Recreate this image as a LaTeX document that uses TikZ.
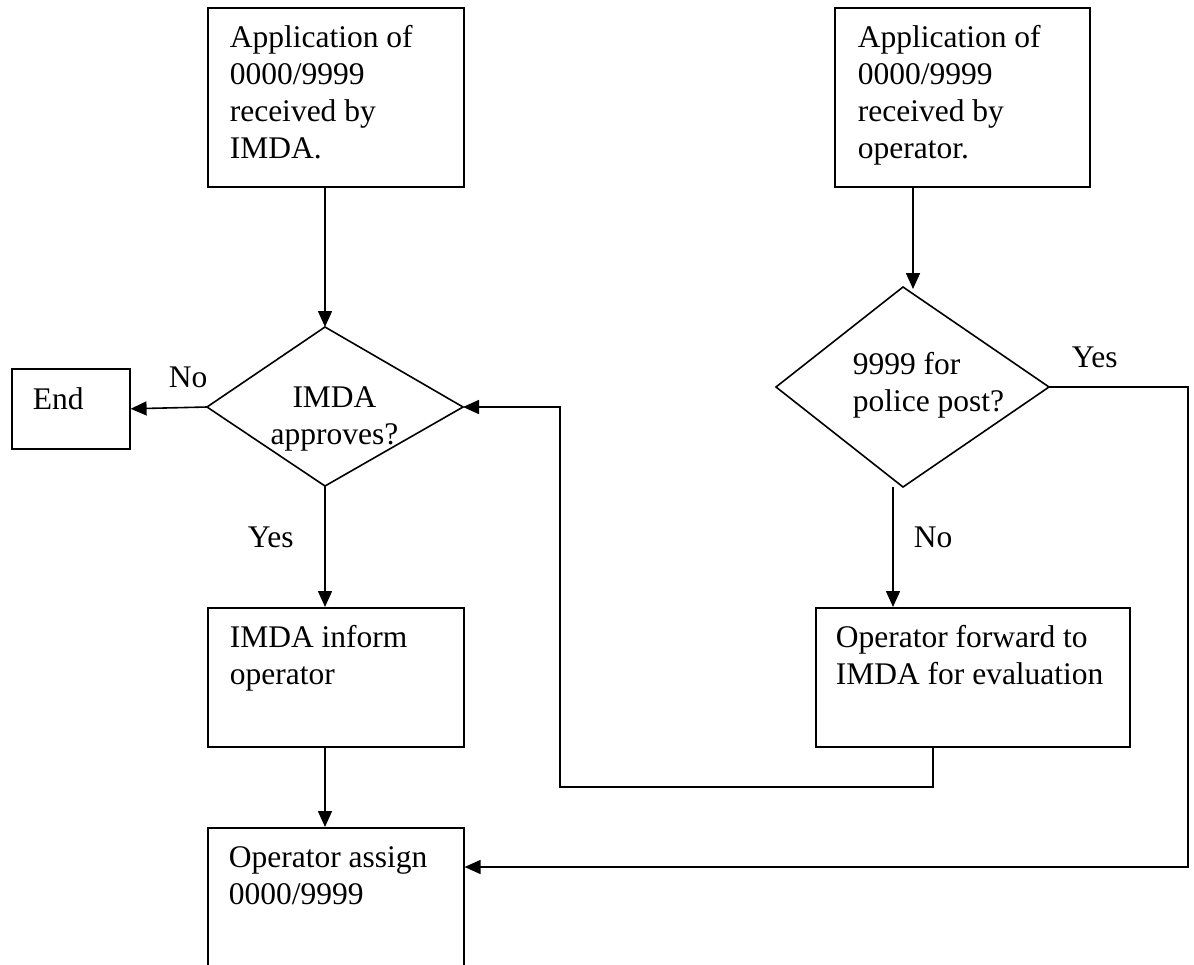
\documentclass[tikz,border=0pt]{standalone}
\usepackage{fontspec}
\setmainfont{Liberation Serif}
\usetikzlibrary{arrows.meta}
\begin{document}
\begin{tikzpicture}[x=1pt,y=-1pt,
  line width=1.6pt,
  box/.style={draw, rectangle, anchor=north west, inner sep=0pt, line width=1.6pt},
  txt/.style={anchor=base west, inner sep=0pt, font=\fontsize{31.5pt}{37pt}\selectfont},
  ctxt/.style={anchor=base, inner sep=0pt, font=\fontsize{31.5pt}{37pt}\selectfont},
  arr/.style={-{Triangle[length=16pt,width=14pt]}},
  line join=miter]
\useasboundingbox (0,0) rectangle (1194,964);
\clip (0,0) rectangle (1194,964);

% boxes
\node[box, minimum width=256pt, minimum height=179pt] (boxA) at (207,7) {};
\node[box, minimum width=255pt, minimum height=179pt] (boxB) at (834,7) {};
\node[box, minimum width=118pt, minimum height=80pt] (endbox) at (11,368) {};
\node[box, minimum width=256pt, minimum height=139pt] (inform) at (207,607) {};
\node[box, minimum width=314pt, minimum height=139pt] (forward) at (815,607) {};
\node[box, minimum width=256pt, minimum height=220pt] (assign) at (207,827) {};

% diamonds
\coordinate (d1t) at (325,327);
\coordinate (d1r) at (463,407);
\coordinate (d1b) at (325,486);
\coordinate (d1l) at (207,407);
\draw (d1t) -- (d1r) -- (d1b) -- (d1l) -- cycle;
\coordinate (d2t) at (903,287);
\coordinate (d2r) at (1049,387);
\coordinate (d2b) at (903,487);
\coordinate (d2l) at (776,387);
\draw (d2t) -- (d2r) -- (d2b) -- (d2l) -- cycle;

% texts
\node[txt] (tA) at (229,47) {\parbox[t]{400pt}{Application of\\0000/9999\\received by\\IMDA.}};
\node[txt] (tB) at (857,47) {\parbox[t]{400pt}{Application of\\0000/9999\\received by\\operator.}};
\node[txt] (tEnd) at (32,409) {End};
\node[ctxt] (tD1) at (334.5,407) {\parbox[t]{200pt}{\centering IMDA\\approves?}};
\node[txt] (tD2) at (852,374) {\parbox[t]{300pt}{9999 for\\police post?}};
\node[txt] (tInform) at (229,647) {\parbox[t]{400pt}{IMDA inform\\operator}};
\node[txt] (tForward) at (835,647) {\parbox[t]{400pt}{Operator forward to\\IMDA for evaluation}};
\node[txt] (tAssign) at (228,867) {\parbox[t]{400pt}{Operator assign\\0000/9999}};
\node[txt] (lNo1) at (168,387) {No};
\node[txt] (lYes1) at (247,547) {Yes};
\node[txt] (lYes2) at (1071,367) {Yes};
\node[txt] (lNo2) at (913,547) {No};

% connectors
\coordinate (d2in) at (913,289);
\coordinate (d2out) at (893,487);
\coordinate (yr1) at (1188,387);
\coordinate (yr2) at (1188,867);
\coordinate (fb1) at (933,787);
\coordinate (fb2) at (560,787);
\coordinate (fb3) at (560,407);

\draw[arr] (boxA.south -| d1t) -- (d1t);
\draw[arr] (boxB.south -| d2in) -- (d2in);
\draw[arr] (d1l) -- (endbox.east);
\draw[arr] (d1b) -- (inform.north -| d1b);
\draw[arr] (inform.south -| d1b) -- (assign.north -| d1b);
\draw[arr] (d2out) -- (forward.north -| d2out);
\draw[arr] (d2r) -- (yr1) -- (yr2) -- (assign.east |- yr2);
\draw[arr] (forward.south -| fb1) -- (fb1) -- (fb2) -- (fb3) -- (d1r);
\end{tikzpicture}
\end{document}
